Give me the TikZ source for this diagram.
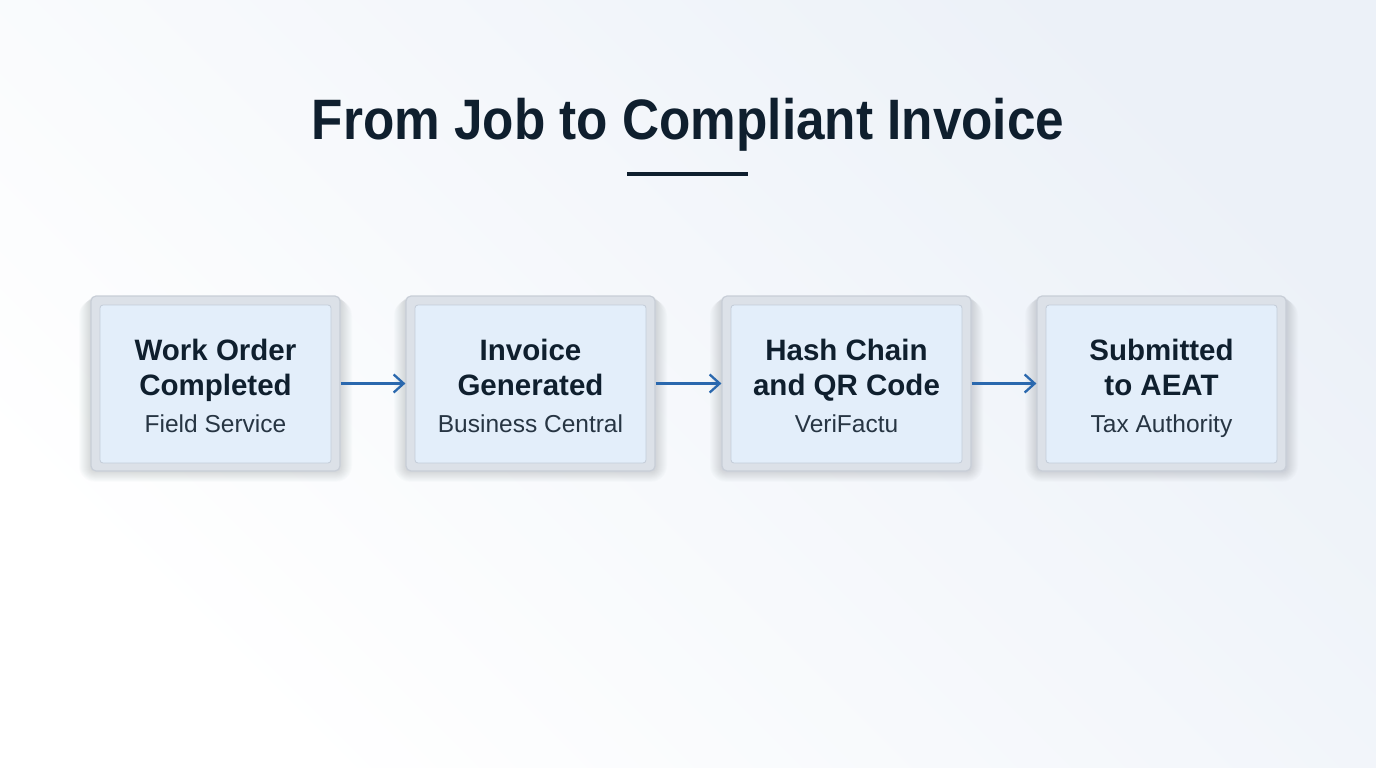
\documentclass[tikz,border=0pt]{standalone}
\usepackage{fontspec}
\setmainfont{Liberation Sans}
\usetikzlibrary{arrows.meta}
\definecolor{navy}{HTML}{0F1F2E}
\definecolor{outerfill}{HTML}{DCE1E8}
\definecolor{outerdraw}{HTML}{C8CED7}
\definecolor{innerfill}{HTML}{E3EEFA}
\definecolor{innerdraw}{HTML}{C3CCD8}
\definecolor{arrowblue}{HTML}{2A68AE}
\definecolor{bgA}{HTML}{FFFFFF}
\definecolor{bgB}{HTML}{ECF1F8}
\definecolor{shadowc}{HTML}{5A6678}
\tikzset{
  x=1pt,y=-1pt,
  outerbox/.style={draw=outerdraw,line width=1.2pt,fill=outerfill,rounded corners=5pt,minimum width=249pt,minimum height=175pt,inner sep=0pt},
  innerbox/.style={draw=innerdraw,line width=0.8pt,fill=innerfill,rounded corners=3pt,minimum width=231pt,minimum height=158pt,inner sep=0pt},
  headtext/.style={font=\bfseries\fontsize{29.5}{35}\selectfont,text=navy,align=center},
  subtext/.style={font=\fontsize{24.5}{28}\selectfont,text=navy!90,align=center},
  flow/.style={draw=arrowblue,line width=2.3pt,-{Straight Barb[length=10pt,width=18pt,line width=2.3pt]}},
  softshadow/.style={fill=shadowc,fill opacity=0.018,draw=none}
}
\begin{document}
\begin{tikzpicture}
\useasboundingbox (0,0) rectangle (1376,768);
\shade[left color=bgA,right color=bgB,shading angle=135] (0,0) rectangle (1376,768);
\node[font=\bfseries\fontsize{57}{60}\selectfont,text=navy,anchor=base,xscale=0.9,transform shape] (title) at (688,139) {From Job to Compliant Invoice};
\draw[navy,line width=4pt] (627,174) -- (748,174) coordinate (ulend);
\foreach \cx in {215.5,530.5,846.5,1161.5}{
  \foreach \r in {1,...,12}{
    \fill[softshadow,rounded corners=\r pt+4pt] (\cx-124.5-\r,296+\r*0.3) rectangle (\cx+124.5+\r,471+\r*0.9);
  }
}
\foreach \i/\cx/\ha/\hb/\sub in {1/215.5/Work Order/Completed/Field Service,2/530.5/Invoice/Generated/Business Central,3/846.5/Hash Chain/and QR Code/VeriFactu,4/1161.5/Submitted/to AEAT/Tax Authority}{
  \node[outerbox] (o\i) at (\cx,383.5) {};
  \node[innerbox] (b\i) at (\cx,384) {};
  \node[headtext,anchor=base] (h\i) at (\cx,360) {\ha};
  \node[headtext,anchor=base] (k\i) at (\cx,395) {\hb};
  \node[subtext,anchor=base] (s\i) at (\cx,432) {\sub};
}
\draw[flow] (o1.east) -- (o2.west);
\draw[flow] (o2.east) -- (o3.west);
\draw[flow] (o3.east) -- (o4.west);
\end{tikzpicture}
\end{document}
